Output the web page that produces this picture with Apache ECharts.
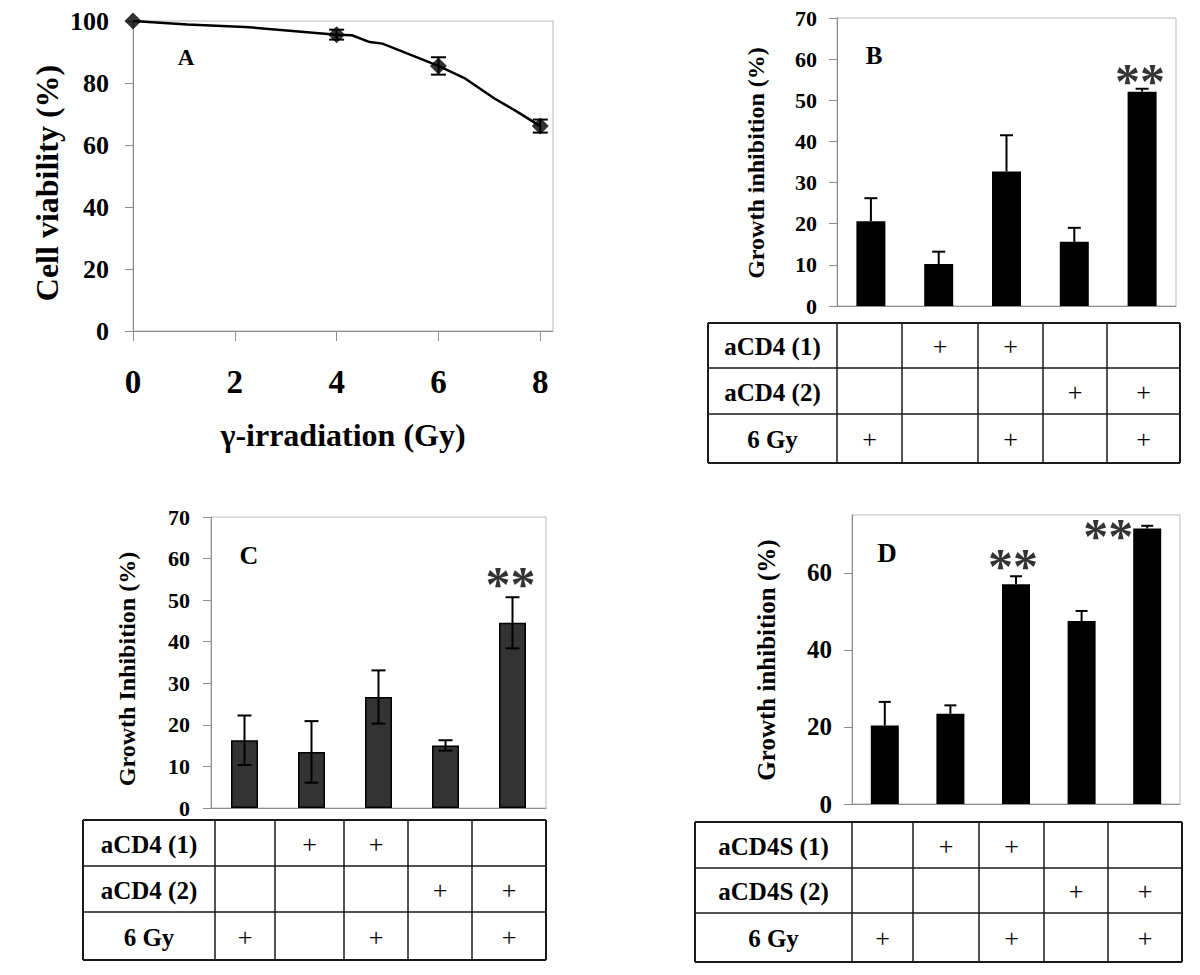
<!DOCTYPE html>
<html><head><meta charset="utf-8">
<script src="https://cdn.jsdelivr.net/npm/echarts@6.0.0/dist/echarts.min.js"></script>
<style>html,body{margin:0;padding:0;background:#fff}#c{width:1200px;height:975px}</style>
</head><body><div id="c"></div>
<script>
// ---------- DATA ----------
// Panel A: cell viability vs dose
const doseTicks = [0, 2, 4, 6, 8];
const doseMeasured = [0, 4, 6, 8];
const viabilityMean = [100, 95.6, 85.5, 66.1];
const viabilityErr = [0, 1.6, 2.8, 2.1];
const curveDose = [0, 1.07, 2.2, 4, 4.3, 4.65, 4.9, 6, 6.53, 7.1, 7.55, 8];
const curveViability = [100, 98.9, 98.1, 95.6, 95.4, 93.2, 92.7, 85.5, 81.4, 75.0, 70.7, 66.1];
// Panels B-D: growth inhibition by condition group
const groups = ['1', '2', '3', '4', '5'];
const inhibB = [20.6, 10.2, 32.7, 15.6, 52.1];
const errB = [5.6, 3.0, 8.8, 3.4, 0.7];
const inhibC = [16.3, 13.5, 26.7, 15.05, 44.55];
const errC = [5.95, 7.4, 6.4, 1.25, 6.15];
const inhibD = [20.4, 23.4, 57.0, 47.5, 71.5];
const errD = [6.1, 2.2, 2.1, 2.6, 0.7];
const sigB = [4];
const sigC = [4];
const sigD = [2, 4];
// Tick labels
const ticksA = [0, 20, 40, 60, 80, 100];
const ticksBC = [0, 10, 20, 30, 40, 50, 60, 70];
const ticksD = [0, 20, 40, 60];
// Treatment tables
const rowsBC = ['aCD4 (1)', 'aCD4 (2)', '6 Gy'];
const rowsD = ['aCD4S (1)', 'aCD4S (2)', '6 Gy'];
const treatment = [
  [0, 1, 1, 0, 0],
  [0, 0, 0, 1, 1],
  [1, 0, 1, 0, 1]
];

// ---------- STYLE / LAYOUT ----------
const SERIF = '"Liberation Serif", "Times New Roman", serif';
const AXIS_GRAY = '#8c8c8c';
const grids = [
  {left: 133, top: 21, width: 420, height: 310},   // A
  {left: 837, top: 18, width: 339, height: 288},   // B
  {left: 211, top: 517, width: 335, height: 291},  // C
  {left: 852, top: 515, width: 328, height: 289}   // D
].map(g => Object.assign({show: true, borderColor: '#b8b8b8', borderWidth: 1, backgroundColor: 'transparent'}, g));

const tables = [
  {rows: rowsBC, xs: [708, 837, 902, 978, 1043, 1107, 1180], ys: [323, 368, 414, 463]},
  {rows: rowsBC, xs: [83, 215, 275, 344, 408, 472, 546], ys: [820, 866, 912, 960]},
  {rows: rowsD, xs: [695, 852, 913, 979, 1044, 1108, 1182], ys: [822, 868, 913, 962]}
];

function valueAxis(gi, min, max, ticks, fontSize, margin) {
  return {
    type: 'value', gridIndex: gi, min: min, max: max,
    splitLine: {show: false},
    axisLine: {show: true, lineStyle: {color: AXIS_GRAY, width: 1}},
    axisTick: {show: true, length: 8, customValues: ticks, lineStyle: {color: AXIS_GRAY}},
    axisLabel: {show: true, customValues: ticks, margin: margin, color: '#000',
      fontFamily: SERIF, fontWeight: 'bold', fontSize: fontSize}
  };
}
function catAxis(gi) {
  return {
    type: 'category', gridIndex: gi, data: groups, boundaryGap: true,
    axisLine: {show: true, lineStyle: {color: AXIS_GRAY, width: 1}},
    axisTick: {show: false}, axisLabel: {show: false}, splitLine: {show: false}
  };
}

function errRender(capW, twoSided) {
  return function (params, api) {
    const c = api.value(0);
    const lo = api.coord([c, api.value(1)]);
    const hi = api.coord([c, api.value(2)]);
    const h = capW / 2;
    const st = {stroke: '#000', lineWidth: 2};
    const ch = [
      {type: 'line', shape: {x1: lo[0], y1: lo[1], x2: hi[0], y2: hi[1]}, style: st},
      {type: 'line', shape: {x1: hi[0] - h, y1: hi[1], x2: hi[0] + h, y2: hi[1]}, style: st}
    ];
    if (twoSided) ch.push({type: 'line', shape: {x1: lo[0] - h, y1: lo[1], x2: lo[0] + h, y2: lo[1]}, style: st});
    return {type: 'group', children: ch};
  };
}

function barSet(gi, vals, errs, twoSided, color, border, barW, capW, sig, sigOffsets) {
  const out = [];
  out.push({
    type: 'bar', xAxisIndex: gi, yAxisIndex: gi, data: vals, barWidth: barW,
    itemStyle: {color: color, borderColor: '#000', borderWidth: border}, silent: true
  });
  out.push({
    type: 'custom', xAxisIndex: gi, yAxisIndex: gi, z: 5, silent: true,
    renderItem: errRender(capW, twoSided),
    data: vals.map((v, i) => [i, twoSided ? v - errs[i] : v, v + errs[i]])
  });
  out.push({
    type: 'scatter', xAxisIndex: gi, yAxisIndex: gi, symbolSize: 1, z: 6, silent: true,
    itemStyle: {color: 'rgba(0,0,0,0)'},
    data: sig.map((i, k) => ({
      value: [i, vals[i] + errs[i]],
      label: {show: true, formatter: '**', position: 'inside', offset: sigOffsets[k],
        color: '#000', fontFamily: SERIF, fontSize: 50, fontWeight: 'bold'}
    }))
  });
  return out;
}

// ---------- GRAPHIC (titles, panel letters, tables) ----------
const graphics = [];
function txt(text, x, y, size, weight, rot) {
  graphics.push({type: 'text', x: x, y: y, rotation: rot || 0, silent: true,
    style: {text: text, fill: '#000', font: weight + ' ' + size + 'px ' + SERIF,
      align: 'center', verticalAlign: 'middle'}});
}
txt('Cell viability (%)', 47, 183, 32, 'bold', Math.PI / 2);
txt('\u03b3-irradiation (Gy)', 343, 435, 32, 'bold');
txt('Growth inhibition (%)', 756, 163, 24, 'bold', Math.PI / 2);
txt('Growth Inhibition (%)', 127, 669, 24, 'bold', Math.PI / 2);
txt('Growth inhibition (%)', 766, 660, 25, 'bold', Math.PI / 2);
txt('A', 186, 57, 23, 'bold');
txt('B', 874, 55, 25, 'bold');
txt('C', 249, 555, 26, 'bold');
txt('D', 887, 553, 27, 'bold');

function line(x1, y1, x2, y2, w) {
  graphics.push({type: 'line', silent: true, shape: {x1: x1, y1: y1, x2: x2, y2: y2},
    style: {stroke: '#1a1a1a', lineWidth: w}});
}
tables.forEach(t => {
  const xs = t.xs, ys = t.ys;
  const L = xs[0], R = xs[xs.length - 1], T = ys[0], B = ys[ys.length - 1];
  ys.forEach((y, i) => line(L, y, R, y, (i === 0 || i === ys.length - 1) ? 2 : 1.5));
  xs.forEach((x, i) => line(x, T, x, B, (i === 0 || i === xs.length - 1) ? 2 : 1.5));
  t.rows.forEach((r, ri) => {
    const cy = (ys[ri] + ys[ri + 1]) / 2 + 1;
    txt(r, (xs[0] + xs[1]) / 2, cy, 25, 'bold');
    treatment[ri].forEach((on, ci) => {
      if (on) txt('+', (xs[ci + 1] + xs[ci + 2]) / 2, cy, 26, 'normal');
    });
  });
});

// ---------- OPTION ----------
const option = {
  animation: false,
  backgroundColor: '#fff',
  grid: grids,
  xAxis: [
    {type: 'value', gridIndex: 0, min: 0, max: 8.25, splitLine: {show: false},
      axisLine: {show: true, lineStyle: {color: AXIS_GRAY, width: 1}},
      axisTick: {show: true, length: 10, customValues: doseTicks, lineStyle: {color: AXIS_GRAY}},
      axisLabel: {show: true, customValues: doseTicks, margin: 34, color: '#000',
        fontFamily: SERIF, fontWeight: 'bold', fontSize: 33}},
    catAxis(1), catAxis(2), catAxis(3)
  ],
  yAxis: [
    valueAxis(0, 0, 100, ticksA, 26, 24),
    valueAxis(1, 0, 70, ticksBC, 22, 20),
    valueAxis(2, 0, 70, ticksBC, 22, 21),
    valueAxis(3, 0, 75, ticksD, 25, 20)
  ],
  series: [
    {type: 'line', xAxisIndex: 0, yAxisIndex: 0, symbol: 'none', silent: true,
      lineStyle: {color: '#000', width: 2.5},
      data: curveDose.map((d, i) => [d, curveViability[i]])},
    {type: 'custom', xAxisIndex: 0, yAxisIndex: 0, z: 4, silent: true,
      renderItem: errRender(15, true),
      data: doseMeasured.map((d, i) => [d, viabilityMean[i] - viabilityErr[i], viabilityMean[i] + viabilityErr[i]])
        .filter((p, i) => viabilityErr[i] > 0)},
    {type: 'scatter', xAxisIndex: 0, yAxisIndex: 0, symbol: 'diamond', symbolSize: 17, z: 5, silent: true,
      itemStyle: {color: '#000'},
      data: doseMeasured.map((d, i) => [d, viabilityMean[i]])}
  ]
    .concat(barSet(1, inhibB, errB, false, '#000', 0, 29, 13, sigB, [[-2, -8]]))
    .concat(barSet(2, inhibC, errC, true, '#333333', 1.5, 27, 14, sigC, [[-2, -13]]))
    .concat(barSet(3, inhibD, errD, false, '#000', 0, 28, 12, sigD, [[-3, -10], [-39, 10]])),
  graphic: graphics
};

const chart = echarts.init(document.getElementById('c'), null, {renderer: 'svg', width: 1200, height: 975});
chart.setOption(option);
</script>
</body></html>
